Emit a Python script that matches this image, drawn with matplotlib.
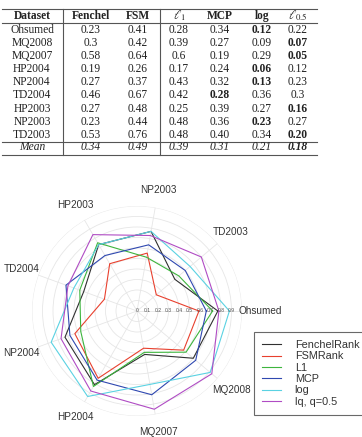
import numpy as np
import matplotlib
matplotlib.use('Agg')
import matplotlib.pyplot as plt
from matplotlib.lines import Line2D

plt.rcParams['font.family'] = ['Liberation Sans', 'DejaVu Sans']
plt.rcParams['mathtext.fontset'] = 'stix'

W, H = 362, 437

# table data (radar shows 1 - value)
datasets = ['Ohsumed', 'MQ2008', 'MQ2007', 'HP2004', 'NP2004',
            'TD2004', 'HP2003', 'NP2003', 'TD2003']
fenchel = ['0.23', '0.3', '0.58', '0.19', '0.27', '0.46', '0.27', '0.23', '0.53']
fsm = ['0.41', '0.42', '0.64', '0.26', '0.37', '0.67', '0.48', '0.44', '0.76']
l1 = ['0.28', '0.39', '0.6', '0.17', '0.43', '0.42', '0.25', '0.48', '0.48']
mcp = ['0.34', '0.27', '0.19', '0.24', '0.32', '0.28', '0.39', '0.36', '0.40']
logp = ['0.12', '0.09', '0.29', '0.06', '0.13', '0.36', '0.27', '0.23', '0.34']
lq = ['0.22', '0.07', '0.05', '0.12', '0.23', '0.3', '0.16', '0.27', '0.20']
means = ['0.34', '0.49', '0.39', '0.31', '0.21', '0.18']

headers = ['Dataset', 'Fenchel', 'FSM', r'$\ell_1$', 'MCP', 'log', r'$\ell_{0.5}$']
series_names = ['FenchelRank', 'FSMRank', 'L1', 'MCP', 'log', 'lq, q=0.5']
colors = ['#303030', '#e8402e', '#3db53d', '#2f48b0', '#5ad2e2', '#b04cc4']

fig = plt.figure(figsize=(W/100, H/100), dpi=100)


def fx(px):
    return px / W


def fy(py):
    return 1 - py / H


# ---- table ----
serif = 'Liberation Serif'
col_x = [32, 91, 138, 179, 220, 262, 298]
row_y0, row_dy = 30, 13.1
tc = '#222222'

for j, h in enumerate(headers):
    fig.text(fx(col_x[j]), fy(16), h, family=serif,
             fontsize=9 if h.startswith('$') else 8.3,
             weight='bold', ha='center', va='center', color=tc)

columns = [fenchel, fsm, l1, mcp, logp, lq]
for i, name in enumerate(datasets):
    y = fy(row_y0 + row_dy * i)
    fig.text(fx(col_x[0]), y, name, family=serif, fontsize=8.3,
             ha='center', va='center', color=tc)
    vals = [c[i] for c in columns]
    best = 2 + int(np.argmin([float(v) for v in vals[2:]]))
    for j, v in enumerate(vals):
        fig.text(fx(col_x[j + 1]), y, v, family=serif, fontsize=8.3,
                 weight='bold' if j == best else 'normal',
                 ha='center', va='center', color=tc)

ym = fy(147.5)
fig.text(fx(col_x[0]), ym, 'Mean', family=serif, fontsize=8.3, style='italic',
         ha='center', va='center', color=tc)
best = 2 + int(np.argmin([float(v) for v in means[2:]]))
for j, v in enumerate(means):
    fig.text(fx(col_x[j + 1]), ym, v, family=serif, fontsize=8.3, style='italic',
             weight='bold' if j == best else 'normal',
             ha='center', va='center', color=tc)

for yy in [9.3, 23, 141.7, 154.7]:
    fig.add_artist(Line2D([fx(2), fx(317)], [fy(yy), fy(yy)], color='#555555', lw=0.8))
for xx in [62.7, 160]:
    fig.add_artist(Line2D([fx(xx), fx(xx)], [fy(9.3), fy(154.7)], color='#555555', lw=0.8))

# ---- radar ----
cx, cy, R = 137, 311, 105
ax = fig.add_axes([fx(cx - R), (H - cy - R) / H, 2 * R / W, 2 * R / H], projection='polar')
ax.set_theta_direction(-1)
ax.set_theta_offset(0)
theta = np.arange(len(datasets)) * 2 * np.pi / len(datasets)
ax.set_ylim(0, 1)
ax.set_yticks(np.arange(0.1, 1.01, 0.1))
ax.set_yticklabels([])
ax.set_xticks(theta)
ax.set_xticklabels([])
ax.grid(color='#e6e6e6', lw=0.6)
ax.spines['polar'].set_visible(False)
ax.patch.set_alpha(0)

for k in range(10):
    ax.text(0, k / 10, '%g' % (k / 10), fontsize=3.6, color='#555555',
            ha='center', va='center')

th = np.append(theta, theta[0])
handles = []
for vals, name, c in zip(columns, series_names, colors):
    r = [1 - float(v) for v in vals]
    r.append(r[0])
    ln, = ax.plot(th, r, color=c, lw=0.8, label=name)
    handles.append(ln)

for t, name in zip(theta, datasets):
    ax.text(t, 1.17, name, fontsize=7.2, color='#333333', ha='center', va='center')

leg = fig.legend(handles, series_names, loc='upper left',
                 bbox_to_anchor=(fx(254), fy(332)), fancybox=False,
                 edgecolor='#444444', fontsize=7.8, handlelength=1.75,
                 handletextpad=1.25, labelspacing=0.12, borderpad=0.75,
                 borderaxespad=0)
leg.get_frame().set_linewidth(0.8)
for t in leg.get_texts():
    t.set_color('#333333')

fig.savefig('out.png', dpi=100)
